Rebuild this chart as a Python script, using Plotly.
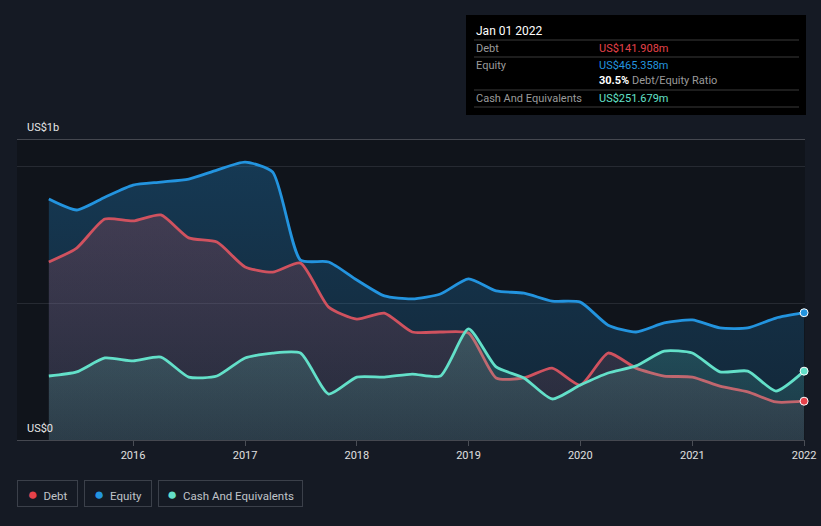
import plotly.graph_objects as go

# ---- data (US$ millions) ----
dates = [
    "2015-04-01", "2015-07-01", "2015-10-01", "2016-01-01",
    "2016-04-01", "2016-07-01", "2016-10-01", "2017-01-01",
    "2017-04-01", "2017-07-01", "2017-10-01", "2018-01-01",
    "2018-04-01", "2018-07-01", "2018-10-01", "2019-01-01",
    "2019-04-01", "2019-07-01", "2019-10-01", "2020-01-01",
    "2020-04-01", "2020-07-01", "2020-10-01", "2021-01-01",
    "2021-04-01", "2021-07-01", "2021-10-01", "2022-01-01",
]
equity = [881, 841, 888, 932, 943, 954, 987, 1016, 980, 658, 651, 585,
          527, 516, 534, 589, 545, 537, 508, 504, 420, 395, 428, 439,
          410, 410, 446, 465.358]
debt = [651, 702, 808, 801, 823, 739, 724, 633, 614, 647, 486, 442,
        464, 395, 395, 391, 227, 227, 263, 201, 318, 263, 234, 230,
        197, 176, 139, 141.908]
cash = [234, 249, 300, 289, 303, 230, 234, 300, 318, 318, 168, 230,
        230, 241, 234, 406, 267, 227, 150, 201, 245, 271, 325, 318,
        249, 252, 179, 251.679]

tick_vals = ["2016-01-01", "2017-01-01", "2018-01-01", "2019-01-01",
             "2020-01-01", "2021-01-01", "2022-01-01"]
tick_text = ["2016", "2017", "2018", "2019", "2020", "2021", "2022"]

C_DEBT = "#d0525f"
C_DEBT_DOT = "#e6424b"
C_EQ = "#2394df"
C_CASH = "#63e0c9"

W, H = 821, 526
L, R, T, B = 17, 805, 140, 440


def px(X):
    return (X - L) / (R - L)


def py(Y):
    return (B - Y) / (B - T)


fig = go.Figure()


def area(y, color, rgb, a0, a1, name):
    fig.add_trace(go.Scatter(
        x=dates, y=y, mode="lines", name=name,
        line=dict(color=color, width=2.8, shape="spline", smoothing=0.6),
        fill="tozeroy",
        fillgradient=dict(
            type="vertical", start=0, stop=1100,
            colorscale=[[0, f"rgba({rgb},{a0})"], [1, f"rgba({rgb},{a1})"]],
        ),
        hoverinfo="skip", showlegend=False,
    ))


area(equity, C_EQ, "35,148,223", 0.14, 0.30, "Equity")
area(debt, C_DEBT, "208,82,95", 0.10, 0.28, "Debt")
area(cash, C_CASH, "99,224,201", 0.10, 0.34, "Cash And Equivalents")

for y, c in [(equity, C_EQ), (cash, C_CASH), (debt, C_DEBT_DOT)]:
    fig.add_trace(go.Scatter(
        x=[dates[-1]], y=[y[-1]], mode="markers",
        marker=dict(color=c, size=8, line=dict(color="white", width=1)),
        hoverinfo="skip", showlegend=False, cliponaxis=False,
    ))

font = "Roboto"

shapes = [
    # tooltip box
    dict(type="rect", xref="paper", yref="paper",
         x0=px(466), x1=px(806), y0=py(115), y1=py(15),
         fillcolor="#000000", line=dict(width=0), layer="above"),
]
for Y in [40, 57, 90, 107]:
    shapes.append(dict(type="line", xref="paper", yref="paper",
                       x0=px(474), x1=px(799), y0=py(Y), y1=py(Y),
                       line=dict(color="#3a3a3a", width=1), layer="above"))

annotations = [
    dict(text="US$1b", x=px(25), y=py(127), xanchor="left", yanchor="middle"),
    dict(text="US$0", x=px(25), y=py(428), xanchor="left", yanchor="middle"),
    dict(text="Jan 01 2022", x=px(474), y=py(31), xanchor="left",
         yanchor="middle", font=dict(size=12, color="#ffffff", family=font)),
    dict(text="Debt", x=px(474), y=py(48), xanchor="left", yanchor="middle",
         font=dict(size=11, color="#9a9a9a", family=font)),
    dict(text="US$141.908m", x=px(597), y=py(48), xanchor="left",
         yanchor="middle", font=dict(size=11, color="#e5424a", family=font)),
    dict(text="Equity", x=px(474), y=py(65), xanchor="left", yanchor="middle",
         font=dict(size=11, color="#9a9a9a", family=font)),
    dict(text="US$465.358m", x=px(597), y=py(65), xanchor="left",
         yanchor="middle", font=dict(size=11, color="#2394df", family=font)),
    dict(text="<b>30.5%</b> <span style='color:#9a9a9a'>Debt/Equity Ratio</span>",
         x=px(597), y=py(81), xanchor="left", yanchor="middle",
         font=dict(size=11, color="#ffffff", family=font)),
    dict(text="Cash And Equivalents", x=px(474), y=py(98), xanchor="left",
         yanchor="middle", font=dict(size=11, color="#9a9a9a", family=font)),
    dict(text="US$251.679m", x=px(597), y=py(98), xanchor="left",
         yanchor="middle", font=dict(size=11, color="#63e0c9", family=font)),
]

legend_items = [("Debt", C_DEBT_DOT, 17, 78), ("Equity", C_EQ, 84, 152),
                ("Cash And Equivalents", C_CASH, 158, 303)]
for name, c, x0, x1 in legend_items:
    annotations.append(dict(
        text=f"<span style='color:{c};font-size:17px'>●</span>  {name}",
        x=px((x0 + x1) / 2), y=py(493.5), xanchor="center", yanchor="middle",
        width=x1 - x0 - 2, height=25, borderpad=0, align="center",
        bordercolor="#3b404a", borderwidth=1,
        font=dict(size=11.5, color="#c0c4c9", family=font),
    ))

for a in annotations:
    a.setdefault("xref", "paper")
    a.setdefault("yref", "paper")
    a.setdefault("showarrow", False)
    a.setdefault("font", dict(size=11, color="#e6e6e6", family=font))

fig.update_layout(
    width=W, height=H,
    margin=dict(l=L, r=W - R, t=T, b=H - B, autoexpand=False),
    paper_bgcolor="#151a24",
    plot_bgcolor="#10141b",
    showlegend=False,
    hovermode=False,
    shapes=shapes,
    annotations=annotations,
    xaxis=dict(
        type="date", range=["2014-12-18", "2022-01-04"],
        tickvals=tick_vals, ticktext=tick_text, automargin=False,
        ticks="outside", ticklen=5, tickcolor="#4a4e56",
        tickfont=dict(size=11, color="#e0e0e0", family=font),
        showgrid=False, showline=True, linecolor="#454850", linewidth=1,
        mirror=True, zeroline=False,
    ),
    yaxis=dict(
        range=[0, 1097], tickvals=[500, 1000], showticklabels=False,
        showgrid=True, gridcolor="#262a32", gridwidth=1, automargin=False,
        zeroline=False, showline=False, ticks="",
    ),
)

fig.write_html(
    "out.html",
    config={"displayModeBar": False, "responsive": False},
    post_script="document.documentElement.style.margin='0';"
                "document.body.style.margin='0';"
                "document.body.style.background='#151a24';",
)
